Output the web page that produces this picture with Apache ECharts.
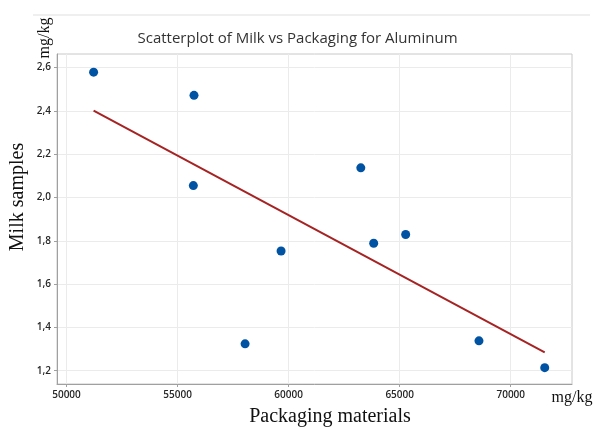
<!DOCTYPE html>
<html>
<head>
<meta charset="utf-8">
<script src="https://cdn.jsdelivr.net/npm/echarts@6/dist/echarts.min.js"></script>
<style>
  html, body { margin: 0; padding: 0; background: #fff; }
  #chart { width: 595px; height: 428px; }
</style>
</head>
<body>
<div id="chart"></div>
<script>
// Aluminium: packaging material (x) vs milk sample (y) concentrations, mg/kg
var packagingValues = [51220, 55740, 55710, 58040, 59660, 63250, 63830, 65270, 68570, 71530];
var milkValues      = [2.579, 2.472, 2.055, 1.324, 1.753, 2.137, 1.789, 1.829, 1.338, 1.214];

// fitted regression line, end points
var fitX = [51220, 71530];
var fitY = [2.401, 1.285];

// tick values
var xTicks = [50000, 55000, 60000, 65000, 70000];
var yTicks = [1.2, 1.4, 1.6, 1.8, 2.0, 2.2, 2.4, 2.6];

var points = packagingValues.map(function (x, i) { return [x, milkValues[i]]; });
var fitLine = fitX.map(function (x, i) { return [x, fitY[i]]; });

var tickFont = { fontFamily: 'Open Sans', fontSize: 10, fontWeight: 600, color: '#262626' };
var serif = 'Liberation Serif';

var chart = echarts.init(document.getElementById('chart'), null, { renderer: 'canvas' });
chart.setOption({
  animation: false,
  backgroundColor: '#fff',
  title: {
    text: 'Scatterplot of Milk vs Packaging for Aluminum',
    left: 'center',
    top: 26,
    textStyle: { fontFamily: 'Open Sans', fontSize: 15, fontWeight: 'normal', color: '#333' }
  },
  grid: {
    left: 57, right: 23, top: 54, bottom: 44,
    show: true, borderColor: '#c8c8c8', borderWidth: 1
  },
  xAxis: {
    type: 'value',
    min: 49572, max: 72758,
    axisLine: { show: true, lineStyle: { color: '#a0a0a0' } },
    axisTick: { show: true, length: 3, customValues: xTicks, lineStyle: { color: '#a0a0a0' } },
    axisLabel: Object.assign({ customValues: xTicks, margin: 6, formatter: function (v) { return String(v); } }, tickFont),
    splitLine: { show: true, lineStyle: { color: '#ebebeb', width: 1 } }
  },
  yAxis: {
    type: 'value',
    min: 1.1386, max: 2.663,
    axisLine: { show: true, lineStyle: { color: '#a0a0a0' } },
    axisTick: { show: true, length: 3, customValues: yTicks, lineStyle: { color: '#a0a0a0' } },
    axisLabel: Object.assign({ customValues: yTicks, margin: 6, formatter: function (v) { return v.toFixed(1).replace('.', ','); } }, tickFont),
    splitLine: { show: true, lineStyle: { color: '#ebebeb', width: 1 } }
  },
  graphic: [
    { type: 'line', shape: { x1: 33, y1: 15, x2: 590, y2: 15 }, style: { stroke: '#efefef', lineWidth: 2 } },
    { type: 'text', x: 45, y: 38, rotation: Math.PI / 2, style: { text: 'mg/kg', font: '16px "' + serif + '"', fill: '#111', align: 'center', verticalAlign: 'middle' } },
    { type: 'text', x: 18, y: 197, rotation: Math.PI / 2, style: { text: 'Milk samples', font: '20px "' + serif + '"', fill: '#111', align: 'center', verticalAlign: 'middle' } },
    { type: 'text', x: 330, y: 417, style: { text: 'Packaging materials', font: '20px "' + serif + '"', fill: '#111', align: 'center', verticalAlign: 'middle' } },
    { type: 'text', x: 572, y: 398, style: { text: 'mg/kg', font: '16px "' + serif + '"', fill: '#111', align: 'center', verticalAlign: 'middle' } }
  ],
  series: [
    {
      type: 'line',
      data: fitLine,
      showSymbol: false,
      lineStyle: { color: '#a52323', width: 2 },
      z: 2
    },
    {
      type: 'scatter',
      data: points,
      symbol: 'circle',
      symbolSize: 9,
      itemStyle: { color: '#0052a3', opacity: 1 },
      z: 3
    }
  ]
});
</script>
</body>
</html>
